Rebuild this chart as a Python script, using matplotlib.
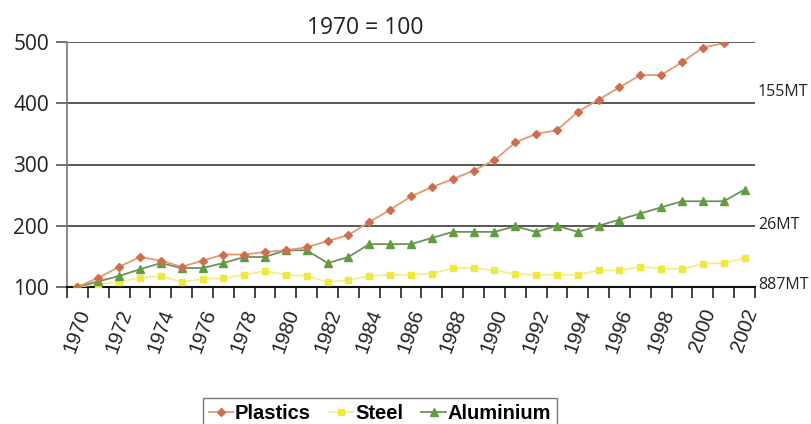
import matplotlib
matplotlib.use("Agg")
import matplotlib.pyplot as plt
import numpy as np

years = list(range(1970, 2003))
plastics = [100, 115, 133, 149, 143, 133, 143, 153, 153, 157, 160, 165, 175, 185, 206, 226,
            248, 263, 276, 290, 307, 336, 350, 356, 386, 406, 426, 446, 446, 467, 491, 498, 520]
steel = [100, 105, 108, 115, 118, 108, 113, 114, 120, 126, 120, 118, 108, 111, 118, 120,
         120, 122, 131, 131, 127, 121, 120, 120, 120, 127, 127, 133, 130, 129, 138, 139, 147]
aluminium = [100, 109, 118, 129, 139, 131, 131, 139, 149, 149, 160, 160, 139, 149, 170, 170,
             170, 180, 190, 190, 190, 199, 190, 200, 190, 200, 210, 220, 230, 240, 240, 240, 259]
end_labels = ["155MT", "26MT", "887MT"]
end_label_y = [418, 202, 104]
x_labels = [str(y) for y in years[::2]]

fig = plt.figure(figsize=(8.11, 4.24), dpi=100)
ax = fig.add_axes([67 / 811, 1 - 287 / 424, 688 / 811, 245 / 424])

x = np.arange(len(years))
ax.plot(x, plastics, color="#e39a72", lw=1.3, marker="D", ms=4.2,
        mfc="#cf6e4c", mec="#cf6e4c", label="Plastics", zorder=4)
ax.plot(x, steel, color="#f2ef8c", lw=1.3, marker="s", ms=5,
        mfc="#eeea3c", mec="#eeea3c", label="Steel", zorder=3)
ax.plot(x, aluminium, color="#6f8f63", lw=1.3, marker="^", ms=6,
        mfc="#5f9e3e", mec="#5f9e3e", label="Aluminium", zorder=3)

ax.set_xlim(-0.5, len(years) - 0.5)
ax.set_ylim(100, 500)

# horizontal grid at 200..500, category axis at the bottom
for v in [200, 300, 400, 500]:
    ax.axhline(v, color="#4a4a4a", lw=1.3, zorder=1)
for s in ["top", "right"]:
    ax.spines[s].set_visible(False)
ax.spines["bottom"].set_color("#111111")
ax.spines["bottom"].set_linewidth(1.5)
ax.spines["left"].set_color("#777777")
ax.spines["left"].set_linewidth(1.2)

ax.set_yticks([100, 200, 300, 400, 500])
ax.tick_params(axis="y", length=8, width=1.2, color="#555555", pad=5,
               labelsize=15, labelcolor="#222222")
for lab in ax.get_yticklabels():
    lab.set_fontfamily("Open Sans")

# boundary ticks between categories, labels every second year
ax.set_xticks(np.arange(-0.5, len(years), 1.0), minor=True)
ax.set_xticks(x[::2])
ax.set_xticklabels(x_labels, rotation=70, ha="center", va="top",
                   fontfamily="Liberation Sans", fontsize=14.5, color="#222222")
ax.tick_params(axis="x", which="major", length=0, pad=14)
ax.tick_params(axis="x", which="minor", length=8, width=1.2, color="#222222")

fig.text(365 / 811, 1 - 28 / 424, "1970 = 100", ha="center", va="center",
         fontsize=16.5, fontfamily="Open Sans", color="#222222")

for txt, yv in zip(end_labels, end_label_y):
    ax.annotate(txt, xy=(1.0, yv), xycoords=("axes fraction", "data"),
                xytext=(2, 0), textcoords="offset points", ha="left", va="center",
                fontsize=11.5, fontfamily="Open Sans", color="#222222", annotation_clip=False)

leg = fig.legend(loc="upper center", bbox_to_anchor=(380 / 811, 1 - 398 / 424),
                 ncol=3, frameon=True, fancybox=False, handlelength=1.2,
                 handletextpad=0.1, columnspacing=0.9, borderpad=0.3,
                 borderaxespad=0.0,
                 prop={"family": "Liberation Sans", "weight": "bold", "size": 14.5})
leg.get_frame().set_edgecolor("#555555")
leg.get_frame().set_linewidth(1.0)

fig.savefig("out.png", dpi=100)
